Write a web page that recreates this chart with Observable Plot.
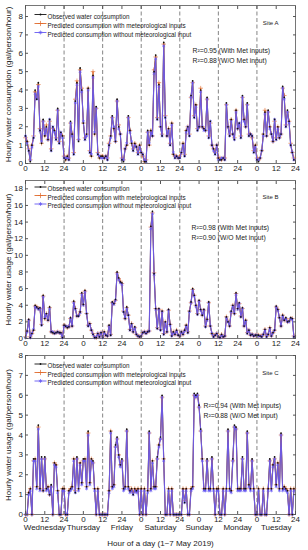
<!DOCTYPE html>
<html><head><meta charset="utf-8">
<script src="https://cdn.jsdelivr.net/npm/d3@7"></script>
<script src="https://cdn.jsdelivr.net/npm/@observablehq/plot@0.6"></script>
<style>
body{margin:0;background:#fff;font-family:"Liberation Sans",Arial,sans-serif;}
#chart svg{display:block;font-family:"Liberation Sans",Arial,sans-serif;}
#chart svg text{font-family:"Liberation Sans",Arial,sans-serif;}
</style></head><body><div id="chart"></div>
<script>
const dayNames = ["Wednesday","Thursday","Friday","Saturday","Sunday","Monday","Tuesday"];
const dayCenters = [12,36,60,84,108,132,156];
const dayBreaks = [24,48,72,96,120,144];
const xTickValues = [0,12,24,36,48,60,72,84,96,108,120,132,144,156,168];
const xTickLabels = ["0","12","24","0","12","24","0","12","24","0","12","24","0","12","24"];
const legendLabels = ["Observed water consumption","Predicted consumption with meteorological inputs","Predicted consumption without meteorological input"];
const xLabel = "Hour of a day (1~7 May 2019)";

// Site A
const siteA_obs = [
1.5,1.2,0.7,0.1,1.0,1.4,4.0,3.5,4.4,1.8,1.1,2.4,1.5,2.0,1.3,2.4,0.7,2.0,1.8,1.3,3.0,1.1,1.7,1.5,
0.3,0.2,0.4,0.2,2.3,1.6,0.5,3.4,4.4,1.2,5.2,4.0,2.2,1.3,1.6,4.1,0.6,0.4,4.8,1.6,3.1,0.5,0.3,0.4,
0.4,0.3,0.4,0.2,1.0,1.5,2.6,1.9,1.2,3.5,2.0,1.6,0.2,0.1,0.8,1.0,2.6,1.8,1.1,0.7,1.1,0.9,0.5,1.0,
0.6,0.5,0.1,0.1,1.8,1.0,1.8,1.5,5.0,5.9,2.4,4.3,2.0,1.5,6.6,2.5,1.5,1.9,1.0,2.2,0.5,0.3,0.4,0.3,
0.3,0.6,1.1,0.4,1.8,2.0,1.5,3.7,4.5,2.5,3.2,1.8,2.0,4.0,2.0,1.9,1.8,3.6,1.4,2.3,1.0,0.8,0.5,1.0,
0.3,0.2,0.2,0.3,0.2,3.3,2.0,1.5,2.4,1.6,1.3,2.9,1.9,2.2,1.4,3.7,2.4,2.0,3.3,1.5,1.6,1.5,0.6,1.0,
0.2,0.1,0.3,0.7,1.6,2.8,1.5,2.9,2.0,1.6,1.2,2.4,1.3,2.0,1.4,1.6,4.2,3.6,2.0,2.9,2.3,1.0,0.6,0.2];
const siteA_met = [
1.4,1.2,0.8,0.2,1.0,1.5,3.9,3.6,4.3,1.9,1.1,2.3,1.5,2.1,1.3,2.3,0.8,1.9,1.8,1.4,2.9,1.2,1.6,1.5,
0.4,0.2,0.4,0.3,2.2,1.6,0.6,3.5,4.5,1.3,5.1,4.1,2.2,1.4,1.6,4.1,0.7,0.4,5.0,1.6,3.0,0.6,0.3,0.4,
0.4,0.3,0.4,0.3,1.1,1.5,2.5,1.9,1.2,3.4,2.1,1.6,0.3,0.2,0.8,1.0,2.5,1.8,1.1,0.8,1.1,0.9,0.6,1.0,
0.6,0.4,0.1,0.2,1.7,1.0,1.8,1.5,5.1,5.8,2.5,4.4,2.0,1.6,6.5,2.6,1.5,1.9,1.1,2.2,0.5,0.4,0.4,0.3,
0.4,0.6,1.1,0.5,1.8,2.0,1.6,3.6,4.4,2.6,3.2,1.9,2.0,4.1,2.0,1.9,1.8,3.5,1.5,2.2,1.0,0.8,0.6,1.0,
0.3,0.3,0.2,0.3,0.3,3.2,2.0,1.6,2.4,1.6,1.4,2.9,1.9,2.1,1.5,3.6,2.4,2.0,3.2,1.6,1.6,1.4,0.7,1.0,
0.3,0.2,0.3,0.7,1.6,2.9,1.5,2.8,2.0,1.6,1.2,2.3,1.4,2.0,1.4,1.6,4.1,3.7,2.1,2.8,2.3,1.1,0.6,0.3];
const siteA_noMet = [
1.5,1.1,0.7,0.2,0.9,1.4,3.8,3.5,4.2,1.8,1.2,2.3,1.6,1.9,1.3,2.4,0.7,2.0,1.7,1.3,2.9,1.1,1.7,1.4,
0.3,0.3,0.3,0.2,2.2,1.5,0.5,3.3,4.3,1.3,5.0,3.9,2.3,1.3,1.5,4.0,0.6,0.5,4.7,1.7,3.0,0.5,0.4,0.3,
0.3,0.3,0.4,0.2,1.0,1.4,2.5,2.0,1.2,3.4,1.9,1.6,0.2,0.2,0.8,1.1,2.5,1.7,1.2,0.7,1.0,0.9,0.5,0.9,
0.6,0.5,0.2,0.1,1.7,1.1,1.7,1.5,4.9,5.7,2.4,4.2,2.0,1.5,6.4,2.5,1.5,1.8,1.0,2.1,0.6,0.3,0.4,0.3,
0.3,0.6,1.0,0.4,1.7,2.0,1.5,3.6,4.4,2.5,3.1,1.8,2.0,3.9,2.0,1.8,1.8,3.5,1.4,2.3,1.0,0.7,0.5,1.0,
0.2,0.2,0.3,0.3,0.2,3.2,2.0,1.5,2.3,1.6,1.3,2.8,1.9,2.2,1.4,3.6,2.3,2.0,3.2,1.5,1.6,1.5,0.6,0.9,
0.2,0.2,0.3,0.7,1.5,2.7,1.5,2.8,1.9,1.6,1.2,2.4,1.3,1.9,1.4,1.6,4.1,3.5,2.0,2.8,2.2,1.0,0.6,0.2];

// Site B
const siteB_obs = [
0.1,0.9,2.3,0.1,0.6,1.0,4.0,3.8,3.6,3.7,1.6,5.2,2.4,3.0,2.2,3.8,0.8,0.7,0.6,0.7,0.8,0.7,0.7,0.1,
1.6,1.5,1.3,1.4,2.5,1.5,4.5,3.6,2.7,2.7,3.2,5.5,4.1,5.8,3.0,1.5,1.8,1.0,0.5,0.1,0.1,0.6,0.2,0.7,
0.1,0.8,0.4,0.3,1.6,0.4,4.4,4.2,4.7,8.0,7.3,6.8,6.7,3.2,2.4,3.8,2.8,1.0,1.8,0.8,1.4,0.5,0.3,0.2,
0.3,0.7,0.8,0.6,0.8,0.9,13.5,15.3,7.8,3.6,1.2,3.6,1.0,3.3,0.5,2.0,0.8,3.5,1.7,0.3,0.8,0.5,1.0,0.4,
0.3,0.8,0.5,1.0,1.6,0.7,3.3,4.4,6.0,5.2,4.0,2.9,4.6,3.5,2.8,3.5,1.4,2.3,4.4,1.5,0.6,0.2,0.4,0.6,
0.2,0.1,0.5,0.2,0.3,2.6,2.0,1.5,3.3,4.0,3.0,5.5,3.6,4.3,2.6,3.7,1.5,2.2,0.6,1.0,0.4,0.5,0.3,0.4,
0.4,0.4,0.3,0.2,0.5,1.1,0.2,0.5,1.3,0.3,0.7,1.0,3.9,3.5,2.5,1.5,2.8,2.2,2.5,2.0,2.1,2.5,2.4,0.2];
const siteB_met = [
0.2,0.9,2.2,0.2,0.6,1.0,3.9,3.8,3.6,3.6,1.7,5.1,2.4,3.0,2.2,3.7,0.8,0.7,0.7,0.7,0.8,0.7,0.7,0.2,
1.6,1.5,1.3,1.4,2.4,1.5,4.4,3.6,2.7,2.8,3.2,5.4,4.1,5.7,3.0,1.6,1.8,1.0,0.6,0.2,0.1,0.6,0.3,0.7,
0.2,0.8,0.4,0.3,1.5,0.5,4.3,4.2,4.6,7.9,7.2,6.9,6.6,3.3,2.4,3.7,2.8,1.1,1.8,0.8,1.3,0.5,0.3,0.2,
0.3,0.7,0.8,0.7,0.8,0.9,13.4,15.1,7.9,3.6,1.3,3.5,1.1,3.3,0.6,2.0,0.8,3.4,1.7,0.4,0.8,0.5,1.0,0.4,
0.3,0.8,0.5,1.0,1.6,0.8,3.3,4.3,5.9,5.2,4.0,3.0,4.5,3.5,2.8,3.4,1.5,2.3,4.3,1.5,0.6,0.3,0.4,0.6,
0.2,0.2,0.5,0.2,0.3,2.6,2.1,1.5,3.2,4.0,3.0,5.4,3.6,4.2,2.7,3.6,1.5,2.2,0.7,1.0,0.4,0.5,0.3,0.4,
0.4,0.4,0.3,0.3,0.5,1.1,0.3,0.5,1.3,0.3,0.7,1.0,3.8,3.5,2.5,1.5,2.8,2.2,2.4,2.0,2.1,2.4,2.4,0.3];
const siteB_noMet = [
0.1,0.8,2.2,0.1,0.6,1.1,3.8,3.7,3.5,3.6,1.6,5.0,2.5,2.9,2.2,3.6,0.8,0.8,0.6,0.7,0.8,0.7,0.6,0.1,
1.5,1.5,1.4,1.4,2.4,1.5,4.3,3.5,2.7,2.7,3.1,5.3,4.0,5.6,3.0,1.5,1.7,1.0,0.5,0.1,0.2,0.6,0.2,0.7,
0.1,0.7,0.4,0.3,1.5,0.4,4.3,4.1,4.6,7.8,7.1,6.7,6.5,3.2,2.4,3.6,2.8,1.0,1.7,0.8,1.3,0.5,0.3,0.2,
0.3,0.7,0.8,0.6,0.8,0.9,13.2,15.0,7.7,3.5,1.2,3.5,1.0,3.2,0.5,1.9,0.8,3.4,1.6,0.3,0.7,0.5,0.9,0.4,
0.3,0.8,0.5,0.9,1.5,0.7,3.2,4.3,5.8,5.1,3.9,2.9,4.5,3.4,2.8,3.4,1.4,2.2,4.3,1.5,0.6,0.2,0.4,0.6,
0.2,0.1,0.4,0.2,0.3,2.5,2.0,1.5,3.2,3.9,3.0,5.3,3.5,4.2,2.6,3.6,1.5,2.1,0.6,1.0,0.4,0.5,0.3,0.4,
0.4,0.3,0.3,0.2,0.5,1.0,0.2,0.5,1.2,0.3,0.7,1.0,3.8,3.4,2.5,1.5,2.7,2.2,2.4,2.0,2.0,2.4,2.3,0.2];

// Site C
const siteC_obs = [
0,0,1.1,1.3,0,2.8,2.8,1.4,4.5,1.3,2.9,1.2,2.9,1.3,1.4,1.0,1.5,0,2.6,2.5,1.2,0,0,1.3,
1.3,0,0,1.2,1.3,1.4,2.8,1.1,2.9,1.3,2.6,1.6,2.8,2.8,1.4,4.2,1.6,2.8,2.7,1.3,0,1.3,0,0,
0,0,0,0,1.2,4.2,1.4,1.5,3.5,3.9,3.0,2.5,2.8,1.3,1.4,4.3,1.4,1.2,1.3,1.0,1.3,1.2,1.3,0,
1.3,0,1.3,0,1.2,4.2,1.3,2.7,1.4,1.4,2.9,3.5,3.9,6.0,2.8,0,0,1.3,0,1.3,0,0,0,0,
0,0,1.3,0.6,1.3,0,0,1.3,1.4,6.1,6.0,6.1,5.5,4.3,2.8,1.3,1.3,2.8,1.3,1.3,2.9,1.3,0,1.3,
1.3,0,0,1.3,0,1.3,4.3,1.3,1.2,2.8,4.5,4.4,1.3,1.3,1.3,2.9,1.3,1.3,4.2,1.5,1.3,2.8,1.3,0,
0,1.3,0,0,1.3,0,0,1.3,2.8,1.3,2.5,2.9,1.5,2.6,1.3,4.1,1.3,1.4,1.3,1.2,0,1.3,0,1.3];
const siteC_met = [
0,0,1.1,1.3,0,2.7,2.8,1.4,4.4,1.3,2.8,1.2,2.8,1.3,1.4,1.0,1.4,0,2.6,2.5,1.2,0,0,1.3,
1.3,0,0,1.2,1.3,1.4,2.8,1.2,2.8,1.3,2.6,1.6,2.7,2.8,1.4,4.1,1.6,2.8,2.6,1.3,0,1.3,0,0,
0,0,0,0,1.2,4.2,1.4,1.5,3.4,3.8,3.0,2.5,2.7,1.3,1.4,4.2,1.4,1.2,1.3,1.1,1.3,1.2,1.3,0,
1.3,0,1.3,0,1.2,4.1,1.3,2.7,1.4,1.4,2.8,3.5,3.8,5.9,2.8,0,0,1.3,0,1.3,0,0,0,0,
0,0,1.3,0.7,1.3,0,0,1.3,1.4,6.0,5.9,6.0,5.4,4.2,2.8,1.3,1.3,2.7,1.3,1.3,2.8,1.3,0,1.3,
1.3,0,0,1.3,0,1.3,4.2,1.3,1.2,2.7,4.4,4.3,1.3,1.3,1.3,2.8,1.3,1.3,4.1,1.5,1.3,2.7,1.3,0,
0,1.3,0,0,1.3,0,0,1.3,2.7,1.3,2.5,2.8,1.5,2.6,1.3,4.0,1.3,1.4,1.3,1.2,0,1.3,0,1.3];
const siteC_noMet = [
0,0,1.0,1.2,0,2.7,2.7,1.3,4.3,1.2,2.8,1.2,2.8,1.2,1.3,1.0,1.4,0,2.5,2.4,1.1,0,0,1.2,
1.2,0,0,1.1,1.2,1.3,2.7,1.1,2.8,1.2,2.5,1.5,2.7,2.7,1.3,4.0,1.5,2.7,2.6,1.2,0,1.2,0,0,
0,0,0,0,1.1,4.1,1.3,1.4,3.4,3.8,2.9,2.4,2.7,1.2,1.3,4.2,1.3,1.1,1.2,1.0,1.2,1.1,1.2,0,
1.2,0,1.2,0,1.1,4.1,1.2,2.6,1.3,1.3,2.8,3.4,3.8,5.9,2.7,0,0,1.2,0,1.2,0,0,0,0,
0,0,1.2,0.6,1.2,0,0,1.2,1.3,6.0,5.9,6.0,5.4,4.2,2.7,1.2,1.2,2.7,1.2,1.2,2.8,1.2,0,1.2,
1.2,0,0,1.2,0,1.2,4.2,1.2,1.1,2.7,4.4,4.3,1.2,1.2,1.2,2.8,1.2,1.2,4.1,1.4,1.2,2.7,1.2,0,
0,1.2,0,0,1.2,0,0,1.2,2.7,1.2,2.4,2.8,1.4,2.5,1.2,4.0,1.2,1.3,1.2,1.1,0,1.2,0,1.2];

const yTicksA = [0,1,2,3,4,5,6,7,8];
const yTicksB = [0,2,4,6,8,10,12,14,16,18];
const yTicksC = [0,1,2,3,4,5,6,7,8];

const COL_OBS = "#111";
const COL_MET = "#e0692a";
const COL_NOMET = "#6458f2";
const FONT = "Liberation Sans, Arial, sans-serif";

const hline = {draw(ctx, size) { const r = Math.sqrt(size / Math.PI); ctx.moveTo(-r, 0); ctx.lineTo(r, 0); }};

function panel(cfg) {
  const rows = cfg.obs.map((v, i) => ({h: i, obs: v, met: cfg.met[i], noMet: cfg.noMet[i]}));
  const L = cfg.legendDy;
  const legendCols = [COL_OBS, COL_MET, COL_NOMET];
  const legendSyms = ["circle", "plus", "asterisk"];
  const legendMarks = [];
  legendLabels.forEach((lab, k) => {
    legendMarks.push(Plot.dot([lab], {frameAnchor: "top-left", dx: 15, dy: L[k], symbol: hline, r: 6, fill: "none", stroke: legendCols[k], strokeWidth: 0.9}));
    legendMarks.push(k === 0
      ? Plot.dot([lab], {frameAnchor: "top-left", dx: 15, dy: L[k], r: 0.9, fill: COL_OBS, stroke: "none"})
      : Plot.dot([lab], {frameAnchor: "top-left", dx: 15, dy: L[k], symbol: legendSyms[k], r: 1.8, fill: "none", stroke: legendCols[k], strokeWidth: 0.7}));
    legendMarks.push(Plot.text([lab], {frameAnchor: "top-left", dx: 22, dy: L[k], text: d => d, textAnchor: "start", fontSize: 6.3, fill: "#222"}));
  });
  const marks = [
    Plot.frame({stroke: "#555", strokeWidth: 0.8}),
    Plot.ruleX(dayBreaks, {stroke: "#666", strokeWidth: 0.8, strokeDasharray: "4,2.5"}),
    Plot.line(rows, {x: "h", y: "obs", stroke: COL_OBS, strokeWidth: 0.8}),
    Plot.line(rows, {x: "h", y: "met", stroke: COL_MET, strokeWidth: 0.9}),
    Plot.dot(rows, {x: "h", y: "met", symbol: "plus", r: 1.6, stroke: COL_MET, strokeWidth: 0.6}),
    Plot.line(rows, {x: "h", y: "noMet", stroke: COL_NOMET, strokeWidth: 1.15, strokeOpacity: 0.9}),
    Plot.dot(rows, {x: "h", y: "noMet", symbol: "asterisk", r: 1.6, stroke: COL_NOMET, strokeWidth: 0.6}),
    Plot.dot(rows, {x: "h", y: "obs", r: 0.85, fill: COL_OBS, stroke: "none"}),
    Plot.axisY(cfg.yTicks, {anchor: "left", tickSize: 0, tickPadding: 2.5, fontSize: 8, label: cfg.yLabel, labelAnchor: "center", labelOffset: 20, labelArrow: "none"}),
    Plot.axisY(cfg.yTicks, {anchor: "left", tickSize: -3, fill: "none", stroke: "#555", label: null}),
    Plot.axisY(cfg.yTicks, {anchor: "right", tickSize: -3, fill: "none", stroke: "#555", label: null}),
    Plot.axisX(xTickValues, {anchor: "bottom", tickSize: 0, tickPadding: 1.5, fontSize: 8, tickFormat: d => xTickLabels[xTickValues.indexOf(d)], label: null}),
    Plot.axisX(xTickValues, {anchor: "bottom", tickSize: -3, fill: "none", stroke: "#555", label: null}),
    Plot.axisX(xTickValues, {anchor: "top", tickSize: -3, fill: "none", stroke: "#555", label: null}),
    ...legendMarks,
    Plot.text([cfg.site], {frameAnchor: "top-right", dx: -17, dy: cfg.siteDy, text: d => d, textAnchor: "end", fontSize: 6, fill: "#222"}),
    Plot.text([cfg.r2[0]], {frameAnchor: "top-left", dx: cfg.r2Dx, dy: cfg.r2Dy, text: d => d, textAnchor: "start", fontSize: 6.8, fill: "#222"}),
    Plot.text([cfg.r2[1]], {frameAnchor: "top-left", dx: cfg.r2Dx, dy: cfg.r2Dy + 9.5, text: d => d, textAnchor: "start", fontSize: 6.8, fill: "#222"})
  ];
  if (cfg.last) {
    marks.push(Plot.axisX(dayCenters, {anchor: "bottom", tickSize: 0, tickPadding: 10, fontSize: 8, tickFormat: d => dayNames[dayCenters.indexOf(d)], label: xLabel, labelAnchor: "center", labelOffset: 31, labelArrow: "none"}));
  }
  return Plot.plot({
    width: 308, height: cfg.height,
    marginTop: cfg.mt, marginBottom: cfg.mb, marginLeft: 25, marginRight: 13,
    style: {fontFamily: FONT, fontSize: "8px", background: "#fff", color: "#222"},
    x: {domain: [0, 168]},
    y: {domain: [0, cfg.ymax]},
    marks
  });
}

const chart = document.getElementById("chart");
chart.append(panel({obs: siteA_obs, met: siteA_met, noMet: siteA_noMet, yTicks: yTicksA, ymax: 8.6,
  yLabel: "Hourly water consumption (gal/person/hour)", height: 177, mt: 5, mb: 14,
  legendDy: [9, 18, 27], site: "Site A", siteDy: 15,
  r2: ["R²=0.95 (With Met inputs)", "R²=0.88 (W/O Met input)"], r2Dx: 167, r2Dy: 43}));
chart.append(panel({obs: siteB_obs, met: siteB_met, noMet: siteB_noMet, yTicks: yTicksB, ymax: 19,
  yLabel: "Hourly water usage (gal/person/hour)", height: 174, mt: 3, mb: 13,
  legendDy: [6.5, 15, 23.5], site: "Site B", siteDy: 14,
  r2: ["R²=0.98 (With Met inputs)", "R²=0.90 (W/O Met input)"], r2Dx: 166, r2Dy: 45}));
chart.append(panel({obs: siteC_obs, met: siteC_met, noMet: siteC_noMet, yTicks: yTicksC, ymax: 8,
  yLabel: "Hourly water usage (gal/person/hour)", height: 199, mt: 4, mb: 36,
  legendDy: [8.5, 17, 25.5], site: "Site C", siteDy: 15,
  r2: ["R²=0.94 (With Met inputs)", "R²=0.88 (W/O Met input)"], r2Dx: 178, r2Dy: 48, last: true}));
</script></body></html>
